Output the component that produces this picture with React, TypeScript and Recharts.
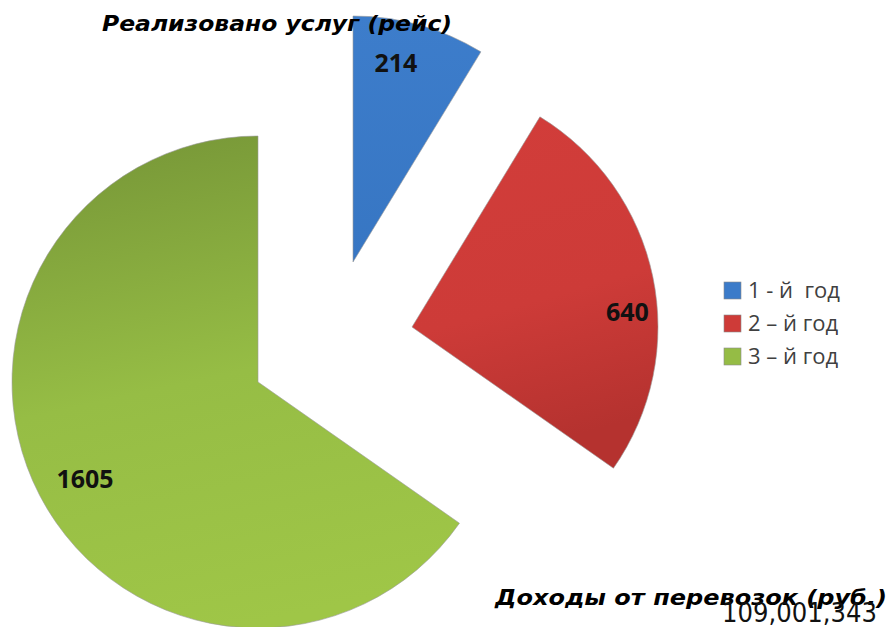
import { PieChart, Pie, Cell } from 'recharts'

const YEARS = ['1 - й  год', '2 – й год', '3 – й год']
const SERVICES = [214, 640, 1605]
const INCOME = '109,001,343'

const TITLE_TOP = 'Реализовано услуг (рейс)'
const TITLE_BOTTOM = 'Доходы от перевозок (руб.)'

const SWATCH = ['#3B7BC9', '#CE3B38', '#95BC45']

// each exploded slice gets its own centre
const CENTRES = [
  { cx: 353, cy: 262 },
  { cx: 412, cy: 327 },
  { cx: 258, cy: 382 },
]
// label radius and angle nudge (deg) per slice
const LABEL_PLACE = [
  { r: 205, shift: 3.6 },
  { r: 216, shift: -7.7 },
  { r: 198, shift: 1.6 },
]

const RADIAN = Math.PI / 180
const W = 893
const H = 627

const data = YEARS.map((name, i) => ({ name, value: SERVICES[i] }))

const labelFor = (own: number) => (props: any) => {
  const { cx, cy, midAngle, index, value } = props
  if (index !== own) return null
  const p = LABEL_PLACE[own]
  const a = (midAngle + p.shift) * RADIAN
  const x = cx + p.r * Math.cos(-a)
  const y = cy + p.r * Math.sin(-a)
  return (
    <text
      x={x}
      y={y}
      textAnchor="middle"
      dominantBaseline="central"
      fill="#111"
      style={{ fontFamily: 'Open Sans', fontWeight: 700, fontSize: 25 }}
    >
      {value}
    </text>
  )
}

export default function App() {
  return (
    <div style={{ position: 'absolute', left: 0, top: 0, width: W, height: H, background: '#fff' }}>
      <PieChart width={W} height={H} margin={{ top: 0, right: 0, bottom: 0, left: 0 }}>
        <defs>
          <linearGradient id="g-blue" x1="0" y1="0" x2="0" y2="1">
            <stop offset="0%" stopColor="#3D7DCB" />
            <stop offset="100%" stopColor="#3776C3" />
          </linearGradient>
          <linearGradient id="g-red" x1="0" y1="0" x2="0.2" y2="1">
            <stop offset="0%" stopColor="#D23D3A" />
            <stop offset="60%" stopColor="#CD3B38" />
            <stop offset="100%" stopColor="#B5322F" />
          </linearGradient>
          <linearGradient id="g-green" x1="0.3" y1="0" x2="0.5" y2="1">
            <stop offset="0%" stopColor="#789838" />
            <stop offset="50%" stopColor="#96BD45" />
            <stop offset="100%" stopColor="#9FC647" />
          </linearGradient>
        </defs>
        {CENTRES.map((c, own) => (
          <Pie
            key={own}
            data={data}
            dataKey="value"
            nameKey="name"
            cx={c.cx}
            cy={c.cy}
            outerRadius={246}
            startAngle={90}
            endAngle={-270}
            labelLine={false}
            label={labelFor(own)}
            isAnimationActive={false}
          >
            {data.map((_, i) => (
              <Cell
                key={i}
                fill={i === own ? `url(#g-${['blue', 'red', 'green'][i]})` : 'transparent'}
                stroke={i === own ? '#9a9a9a' : 'none'}
                strokeWidth={i === own ? 0.6 : 0}
              />
            ))}
          </Pie>
        ))}
      </PieChart>
      <svg width={W} height={H} style={{ position: 'absolute', left: 0, top: 0, pointerEvents: 'none' }}>
        <text
          x={102}
          y={31}
          textLength={350}
          lengthAdjust="spacingAndGlyphs"
          fill="#000"
          style={{ fontFamily: 'DejaVu Sans', fontStyle: 'italic', fontWeight: 700, fontSize: 21 }}
        >
          {TITLE_TOP}
        </text>
        <text
          x={495}
          y={605}
          textLength={392}
          lengthAdjust="spacingAndGlyphs"
          fill="#000"
          style={{ fontFamily: 'DejaVu Sans', fontStyle: 'italic', fontWeight: 700, fontSize: 21 }}
        >
          {TITLE_BOTTOM}
        </text>
        <text
          x={722}
          y={622}
          textLength={155}
          lengthAdjust="spacingAndGlyphs"
          fill="#111"
          style={{ fontFamily: 'DejaVu Sans', fontSize: 26 }}
        >
          {INCOME}
        </text>
        {YEARS.map((y, i) => (
          <g key={y}>
            <rect x={724} y={282 + i * 33} width={17} height={17} fill={SWATCH[i]} stroke="#8a8a8a" strokeWidth={0.6} />
            <text
              x={748}
              y={298 + i * 33}
              fill="#404040"
              style={{ fontFamily: 'Open Sans', fontSize: 22, whiteSpace: 'pre' }}
            >
              {y}
            </text>
          </g>
        ))}
      </svg>
    </div>
  )
}
